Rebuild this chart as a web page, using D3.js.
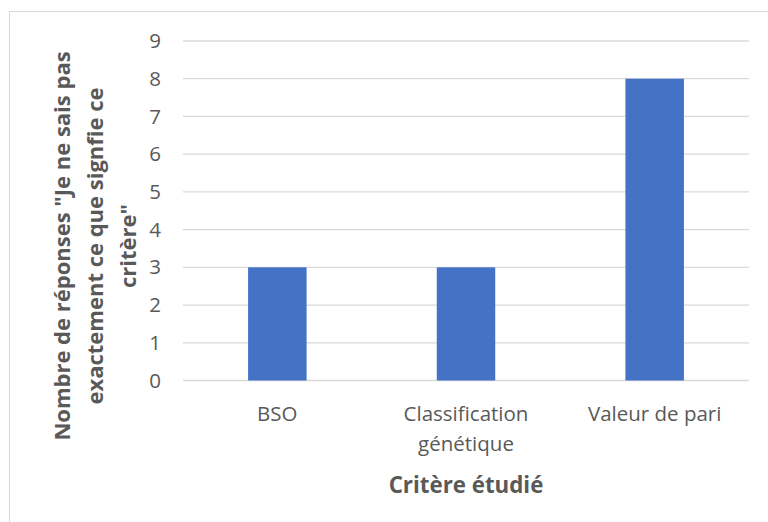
<!DOCTYPE html>
<html><head><meta charset="utf-8">
<script src="https://cdn.jsdelivr.net/npm/d3@7"></script>
<style>body{margin:0;background:#fff;} text{font-family:"Open Sans",sans-serif;}</style>
</head><body>
<svg id="c" width="768" height="522"></svg>
<script>
const categories = [["BSO"], ["Classification", "génétique"], ["Valeur de pari"]];
const values = [3, 3, 8];
const yTicks = [0,1,2,3,4,5,6,7,8,9];
const yTitle = ["Nombre de réponses \"Je ne sais pas", "exactement ce que signfie ce", "critère\""];
const xTitle = "Critère étudié";

const svg = d3.select("#c");
svg.append("rect").attr("x",9.5).attr("y",11.5).attr("width",800).attr("height",600)
  .attr("fill","#fff").attr("stroke","#d9d9d9").attr("stroke-width",1);

const x = d3.scaleBand().domain(categories.map((d,i)=>i)).range([183,749]).paddingInner(0.69).paddingOuter(0.345);
const y = d3.scaleLinear().domain([0,9]).range([380.5,41]);

// gridlines
svg.append("g").selectAll("line").data(yTicks).join("line")
  .attr("x1",183).attr("x2",749).attr("y1",d=>y(d)).attr("y2",d=>y(d))
  .attr("stroke","#d9d9d9").attr("stroke-width",1.3);

// y axis labels
const ya = svg.append("g").attr("transform","translate(161,0)")
  .call(d3.axisLeft(y).tickValues(yTicks).tickSize(0).tickPadding(0));
ya.select(".domain").remove();
ya.selectAll("text").attr("font-family","Open Sans").attr("font-size",20.5).attr("fill","#595959");

// bars
svg.append("g").selectAll("rect").data(values).join("rect")
  .attr("x",(d,i)=>x(i)).attr("width",x.bandwidth())
  .attr("y",d=>y(d)).attr("height",d=>y(0)-y(d)).attr("fill","#4472c4");

// x labels
const xa = svg.append("g").attr("transform","translate(0,380)")
  .call(d3.axisBottom(x).tickSize(0).tickPadding(0).tickFormat(""));
xa.select(".domain").remove();
xa.selectAll(".tick").each(function(d){
  const t = d3.select(this).append("text").attr("fill","#595959").attr("font-size",20.5)
    .attr("text-anchor","middle");
  categories[d].forEach((s,k)=>t.append("tspan").attr("x",0).attr("y",41+k*30).text(s));
});

svg.append("text").attr("x",466).attr("y",493).attr("text-anchor","middle")
  .attr("font-size",22.3).attr("font-weight","bold").attr("fill","#595959").text(xTitle);

const yt = svg.append("text").attr("transform","translate(0,246) rotate(-90)")
  .attr("text-anchor","middle").attr("font-size",22).attr("font-weight","bold").attr("fill","#595959");
yTitle.forEach((s,k)=>yt.append("tspan").attr("x",0).attr("y",70+k*33).text(s));
</script>
</body></html>
